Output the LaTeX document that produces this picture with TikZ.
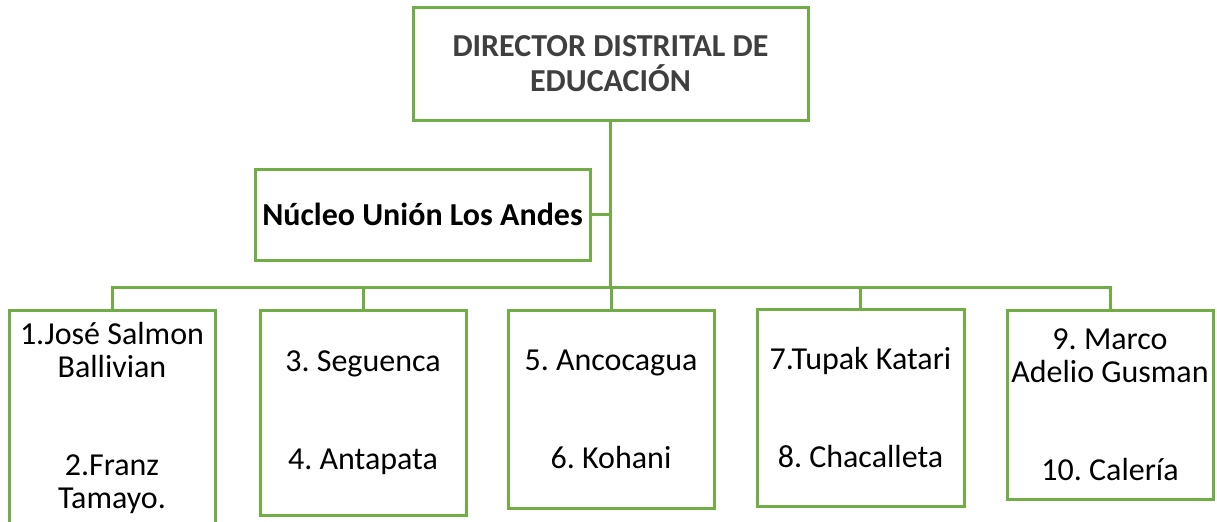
\documentclass[tikz,border=0pt]{standalone}
\usepackage{fontspec}
\setmainfont{Carlito}
\usetikzlibrary{calc}
\definecolor{orggreen}{HTML}{70AD47}
\definecolor{orggray}{HTML}{3F3F3F}
\frenchspacing

\begin{document}
\begin{tikzpicture}[x=0.5pt, y=-0.5pt,
		box/.style={draw=orggreen, line width=1.5pt, fill=white, align=center, inner sep=0pt,
			font=\fontsize{16}{16.5}\selectfont},
		link/.style={draw=orggreen, line width=1.5pt}]
			\useasboundingbox (0,0) rectangle (1217,521);
			\clip (0,0) rectangle (1217,521);
			% top of the chart
			\node[box, minimum width=197.5pt, minimum height=56.5pt, text=orggray,
				font=\fontsize{16}{17.5}\selectfont\bfseries] (dir) at (610.5,63.5) {DIRECTOR DISTRITAL DE\\EDUCACIÓN};
			\node[box, minimum width=167.5pt, minimum height=45.5pt, font=\fontsize{16}{17}\selectfont\bfseries] (nucleo) at (422.5,214.5) {Núcleo Unión Los Andes};
			% schools
			\node[box, minimum width=103pt, minimum height=107.5pt] (b1) at (112,417.5) {1.José Salmon\\Ballivian\\[32.5pt]2.Franz\\Tamayo.};
			\node[box, minimum width=103pt, minimum height=102.5pt] (b2) at (363,412.5) {3. Seguenca\\[32.5pt]4. Antapata};
			\node[box, minimum width=103pt, minimum height=99pt] (b3) at (611,409) {5. Ancocagua\\[32.5pt]6. Kohani};
			\node[box, minimum width=103.5pt, minimum height=98.5pt] (b4) at (860.5,407.5) {7.Tupak Katari\\[32.5pt]8. Chacalleta};
			\node[box, minimum width=103pt, minimum height=94.5pt] (b5) at (1110,404.5) {9. Marco\\Adelio Gusman\\[32.5pt]10. Calería};
			% connectors
			\coordinate (bus) at (610.5,287);
			\draw[link] (dir.south) -- (bus);
			\draw[link] (nucleo.east) -- (nucleo.east -| dir.south);
			\foreach \b in {b1,b2,b3,b4,b5}
				\draw[link] (bus) -| (\b.north);
		\end{tikzpicture}
\end{document}
